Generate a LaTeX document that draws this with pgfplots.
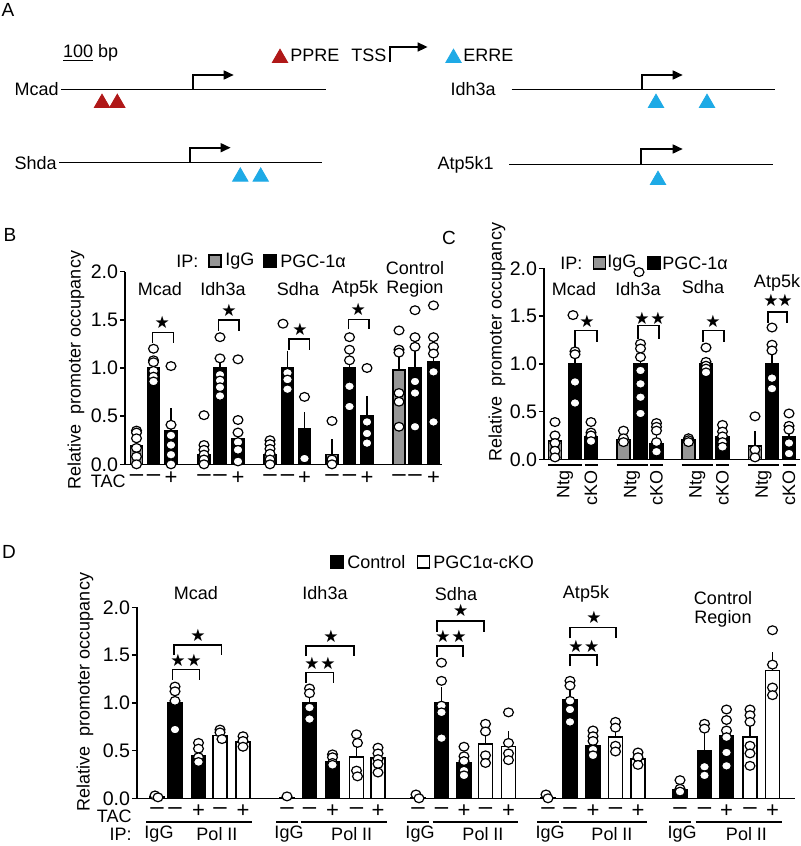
\documentclass[border=0pt]{standalone}
\usepackage{fontspec}
\setmainfont{Liberation Sans}
\newfontfamily\symfont{DejaVu Sans}
\usepackage{pgfplots}
\pgfplotsset{compat=1.18}
\usetikzlibrary{arrows.meta}

\definecolor{ppred}{RGB}{176,24,24}
\definecolor{errblue}{RGB}{30,170,230}
\definecolor{iggray}{RGB}{150,150,150}

\newcommand{\st}{{\symfont\fontsize{8.5}{8.5}\selectfont ★}}
\newcommand{\mi}{{\fontsize{12}{12}\selectfont –}}
\newcommand{\pl}{{\fontsize{11}{11}\selectfont +}}

\pgfplotsset{
  panel/.style={scale only axis, anchor=south west, axis lines=left,
    axis line style={-, line width=0.75pt},
    ymin=0, ymax=2, ytick={0,0.5,1,1.5,2}, xtick=\empty,
    tick align=outside, major tick length=2.5pt,
    every tick/.style={black, line width=0.75pt},
    yticklabel style={font=\fontsize{9.8}{9.8}\selectfont, inner sep=0.8pt,
      /pgf/number format/fixed, /pgf/number format/fixed zerofill,
      /pgf/number format/precision=1, /pgf/number format/assume math mode=true},
    clip=false},
  barb/.style={ybar, bar shift=0pt, fill=black, draw=black, line width=0.75pt, mark=none,
    error bars/y dir=plus, error bars/y explicit,
    error bars/error bar style={line width=0.75pt, black},
    error bars/error mark options={line width=0.75pt, black, mark size=2pt}},
  barg/.style={barb, fill=iggray},
  barw/.style={barb, fill=white},
  barn/.style={ybar, bar shift=0pt, fill=black, draw=black, line width=0.75pt, mark=none},
  pts/.style={only marks, mark=*, mark size=2.2pt,
    mark options={fill=white, draw=black, line width=0.6pt, xscale=1.12}},
}
\tikzset{lab/.style={font=\fontsize{9}{10}\selectfont, inner sep=0pt},
  plet/.style={font=\fontsize{9.5}{10}\selectfont, inner sep=0pt},
  stn/.style={inner sep=0pt},
  brk/.style={line width=0.75pt, black}}

\begin{document}
\begin{tikzpicture}[x=0.5pt,y=-0.5pt]
\path[use as bounding box, fill=white] (0,0) rectangle (800,846);

% ================= Panel A =================
\begin{axis}[at={(0pt,-95pt)}, anchor=south west, scale only axis, width=400pt, height=95pt,
  xmin=0, xmax=800, ymin=0, ymax=190, y dir=reverse, axis lines=none, clip=false]
\addplot[line width=0.8pt] coordinates {(61,89.3) (325.5,89.3)};
\addplot[line width=0.8pt] coordinates {(59,162.3) (322.4,162.3)};
\addplot[line width=0.8pt] coordinates {(511.7,89.3) (774.5,89.3)};
\addplot[line width=0.8pt] coordinates {(509,164.3) (773,164.3)};
\addplot[line width=0.8pt, -{Triangle[length=5pt, width=4.5pt]}] coordinates {(193,89.3) (193,75) (233.7,75)};
\addplot[line width=0.8pt, -{Triangle[length=5pt, width=4.5pt]}] coordinates {(189.8,162.3) (189.8,147.7) (230.6,147.7)};
\addplot[line width=0.8pt, -{Triangle[length=5pt, width=4.5pt]}] coordinates {(641.8,89.3) (641.8,75) (682.7,75)};
\addplot[line width=0.8pt, -{Triangle[length=5pt, width=4.5pt]}] coordinates {(640.8,164.3) (640.8,149) (682.7,149)};
\addplot[line width=0.8pt, -{Triangle[length=5pt, width=4.5pt]}] coordinates {(390,62) (390,47) (427.6,47)};
\addplot[only marks, mark=triangle*, mark size=4.4pt, color=ppred] coordinates {(102,103) (117.3,103) (280,58)};
\addplot[only marks, mark=triangle*, mark size=4.4pt, color=errblue] coordinates {(240.3,176.7) (260.7,176.7) (656,103) (707,103) (658,180) (453.5,58)};
\end{axis}
\node[plet] at (8,10) {A};
\node[lab, anchor=west] at (62.8,53) {\underline{100} bp};
\node[lab, anchor=west] at (290,55) {PPRE};
\node[lab, anchor=west] at (351,55) {TSS};
\node[lab, anchor=west] at (463,55) {ERRE};
\node[lab, anchor=east] at (59,89) {Mcad};
\node[lab, anchor=east] at (57,163) {Shda};
\node[lab, anchor=east] at (496,89) {Idh3a};
\node[lab, anchor=east] at (494,165) {Atp5k1};

% ================= Panel B =================
\begin{axis}[panel, at={(62.5pt,-232.15pt)}, width=158.5pt, height=96.3pt, xmin=125, xmax=442]
\addplot[barg, bar width=12] coordinates {(136.5,0.19) +- (0,0.10) (204,0.10) +- (0,0.06) (270,0.10) +- (0,0.04) (332,0.10) +- (0,0.12) (399,0.98) +- (0,0.14)};
\addplot[barb, bar width=12] coordinates {(153.5,1.0) +- (0,0.06) (171,0.35) +- (0,0.19) (220,1.0) +- (0,0.09) (238,0.27) +- (0,0.07) (287.5,1.0) +- (0,0.14) (304.5,0.37) +- (0,0.13) (349.5,1.0) +- (0,0.12) (367,0.50) +- (0,0.17) (415,1.0) +- (0,0.15) (433.5,1.06) +- (0,0.14)};
\addplot[pts] coordinates {
(136.5,0.35) (136.5,0.33) (136.5,0.27) (136.5,0.17) (136.5,0.08) (136.5,0.0)
(153.5,1.20) (153.5,1.08) (153.5,1.06) (153.5,0.97) (153.5,0.91) (153.5,0.86)
(171,1.02) (171,0.41) (171,0.30) (171,0.20) (171,0.10) (171,0.0)
(204,0.51) (204,0.20) (204,0.15) (204,0.10) (204,0.05) (204,0.0)
(220,1.32) (220,1.10) (220,0.93) (220,0.87) (220,0.80) (220,0.71)
(238,1.09) (238,0.46) (238,0.33) (238,0.23) (238,0.15) (238,0.03)
(270,0.25) (270,0.21) (270,0.16) (270,0.11) (270,0.05) (270,0.0)
(283,1.46) (287.5,0.95) (287.5,0.88) (287.5,0.78)
(304.5,0.70) (304.5,0.06)
(332,0.45) (332,0.05) (332,0.0)
(349.5,1.32) (349.5,1.19) (349.5,1.08) (349.5,0.81) (349.5,0.60)
(367,1.0) (367,0.44) (367,0.32) (367,0.22)
(399,1.39) (399,1.19) (399,1.16) (399,0.74) (399,0.65) (399,0.39)
(415,1.60) (415,1.32) (415,1.22) (415,0.86) (415,0.74) (415,0.39)
(433.5,1.65) (433.5,1.32) (433.5,1.22) (433.5,1.15) (433.5,0.96) (433.5,0.44)};
\draw[brk] (axis cs:152.3,1.263) |- (axis cs:173.3,1.367) -- (axis cs:173.3,1.263);
\draw[brk] (axis cs:218.3,1.387) |- (axis cs:239,1.498) -- (axis cs:239,1.387);
\draw[brk] (axis cs:289,1.19) |- (axis cs:309.3,1.30) -- (axis cs:309.3,1.19);
\draw[brk] (axis cs:348.3,1.40) |- (axis cs:369,1.505) -- (axis cs:369,1.40);
\end{axis}
\node[plet] at (10,235) {B};
\node[lab, rotate=90] at (76,370) {Relative\ \ promoter occupancy};
\node[lab, anchor=west] at (176,261) {IP:};
\node[draw=black, fill=iggray, line width=0.6pt, minimum size=6pt, inner sep=0pt] at (215,261) {};
\node[lab, anchor=west] at (225,261) {IgG};
\node[draw=black, fill=black, minimum size=6.5pt, inner sep=0pt] at (270,261) {};
\node[lab, anchor=west] at (280,261) {PGC-1α};
\node[lab] at (160,289) {Mcad};
\node[lab] at (223,289) {Idh3a};
\node[lab] at (298,289) {Sdha};
\node[lab] at (355,289) {Atp5k};
\node[lab] at (415,268) {Control};
\node[lab] at (415,289) {Region};
\foreach \p in {(162.3,322.7),(229,310),(300,329.3),(358.3,309.3)} {\node[stn] at \p {\st};}
\node[lab, anchor=east] at (126,481) {TAC};
\foreach \x in {136.5,153.5,204,220,270,287.5,332,349.5,399,415} {\node[lab] at (\x,478) {\mi};}
\foreach \x in {171,238,304.5,367,433.5} {\node[lab] at (\x,478) {\pl};}

% ================= Panel C =================
\begin{axis}[panel, at={(272pt,-229.65pt)}, width=128pt, height=95.5pt, xmin=544, xmax=800]
\addplot[barg, bar width=13] coordinates {(555,0.19) +- (0,0.05) (623.5,0.21) +- (0,0.04) (688.5,0.21) +- (0,0.02) (755,0.14) +- (0,0.11)};
\addplot[barb, bar width=13] coordinates {(575,1.0) +- (0,0.20) (591,0.24) +- (0,0.04) (640.5,1.0) +- (0,0.18) (656.5,0.16) +- (0,0.05) (706,1.0) +- (0,0.03) (722.5,0.24) +- (0,0.04) (772,1.0) +- (0,0.11) (789,0.24) +- (0,0.10)};
\addplot[pts] coordinates {
(555,0.39) (555,0.25) (555,0.17) (555,0.09) (555,0.02)
(573,1.51) (575,1.13) (575,1.10) (575,0.81) (575,0.59)
(591,0.39) (591,0.28) (591,0.25) (591,0.19)
(623.5,0.30) (623.5,0.22) (623.5,0.18)
(639,1.96) (640.5,1.21) (640.5,1.16) (640.5,1.07) (640.5,0.93) (640.5,0.79) (640.5,0.65) (640.5,0.48)
(656.5,0.38) (656.5,0.34) (656.5,0.30) (656.5,0.18) (656.5,0.08)
(688.5,0.22) (688.5,0.20) (688.5,0.18)
(706,1.17) (706,1.02) (706,0.98) (706,0.95) (706,0.91)
(722.5,0.36) (722.5,0.29) (722.5,0.24) (722.5,0.18) (722.5,0.13)
(755,0.45) (755,0.10) (755,0.02)
(772,1.38) (772,1.20) (772,1.14) (772,0.85) (772,0.74)
(789,0.48) (789,0.35) (789,0.31) (789,0.17) (789,0.06)};
\draw[brk] (axis cs:575,1.23) |- (axis cs:597,1.35) -- (axis cs:597,1.23);
\draw[brk] (axis cs:638,1.26) |- (axis cs:659,1.40) -- (axis cs:659,1.26);
\draw[brk] (axis cs:703,1.23) |- (axis cs:724,1.35) -- (axis cs:724,1.23);
\draw[brk] (axis cs:768,1.43) |- (axis cs:787,1.54) -- (axis cs:787,1.43);
\end{axis}
\node[plet] at (449,238) {C};
\node[lab, rotate=90] at (497,342) {Relative\ \ promoter occupancy};
\node[lab, anchor=west] at (560,263) {IP:};
\node[draw=black, fill=iggray, line width=0.6pt, minimum size=6pt, inner sep=0pt] at (599.5,263) {};
\node[lab, anchor=west] at (607,263) {IgG};
\node[draw=black, fill=black, minimum size=6.5pt, inner sep=0pt] at (654,263) {};
\node[lab, anchor=west] at (662,263) {PGC-1α};
\node[lab] at (574,289) {Mcad};
\node[lab] at (638,289) {Idh3a};
\node[lab] at (703,287) {Sdha};
\node[lab] at (777,283) {Atp5k};
\foreach \p in {(587,321.7),(642,318),(658,318),(713,321),(771,300),(785,300)} {\node[stn] at \p {\st};}
\foreach \a/\b in {555/575, 623.5/640.5, 688.5/706, 755/772} {
  \draw[line width=0.75pt] (\a-7,465) -- (\b+7,465);
  \node[lab, rotate=90, anchor=east] at ({(\a+\b)/2},470) {Ntg};}
\foreach \c in {591,656.5,722.5,789} {
  \draw[line width=0.75pt] (\c-6.5,465) -- (\c+6.5,465);
  \node[lab, rotate=90, anchor=east] at (\c,470) {cKO};}

% ================= Panel D =================
\begin{axis}[panel, at={(68.5pt,-399.15pt)}, width=329pt, height=95.5pt, xmin=137, xmax=795]
\addplot[barn, bar width=14] coordinates {(157,0.02) (287,0.01) (418,0.01) (548,0.01) (680,0.09)};
\addplot[barb, bar width=14] coordinates {(175,1.0) +- (0,0.07) (198.5,0.45) +- (0,0.06) (309.5,1.0) +- (0,0.07) (332.5,0.38) +- (0,0.04) (441.5,1.0) +- (0,0.12) (464,0.37) +- (0,0.05) (570,1.03) +- (0,0.06) (593,0.55) +- (0,0.05) (704.5,0.50) +- (0,0.14) (726.5,0.65) +- (0,0.07)};
\addplot[barw, bar width=14] coordinates {(220,0.66) +- (0,0.03) (243,0.59) +- (0,0.03) (356.5,0.43) +- (0,0.12) (378,0.42) +- (0,0.05) (485.5,0.57) +- (0,0.11) (508.5,0.54) +- (0,0.12) (615.5,0.64) +- (0,0.06) (638,0.41) +- (0,0.03) (750,0.64) +- (0,0.15) (772.5,1.34) +- (0,0.15)};
\addplot[pts] coordinates {
(155,0.03) (158,0.01)
(175,1.17) (175,1.12) (175,1.02) (175,0.72)
(198.5,0.58) (198.5,0.52) (198.5,0.43) (198.5,0.38)
(220,0.72) (220,0.69) (222,0.62)
(243,0.65) (243,0.60) (243,0.54)
(287,0.02)
(309.5,1.15) (309.5,1.10) (309.5,0.95) (309.5,0.83)
(332.5,0.46) (332.5,0.43) (332.5,0.37) (332.5,0.35)
(356.5,0.67) (357.5,0.58) (356.5,0.29) (357.5,0.23)
(378,0.53) (378,0.47) (378,0.41) (378,0.36) (378,0.27)
(416,0.04) (419,0.0)
(441.5,1.42) (441.5,1.23) (441.5,0.97) (441.5,0.90) (441.5,0.63)
(464,0.54) (464,0.44) (464,0.39) (464,0.29) (464,0.24)
(485.5,0.78) (485.5,0.70) (485.5,0.45) (485.5,0.37)
(508.5,0.90) (508.5,0.58) (508.5,0.47) (508.5,0.40)
(546,0.04) (548,0.0)
(570,1.23) (570,1.18) (570,1.02) (570,0.93) (570,0.80)
(593,0.71) (593,0.65) (593,0.60) (593,0.51) (593,0.45)
(615.5,0.80) (615.5,0.74) (615.5,0.55) (615.5,0.49)
(638,0.48) (638,0.43) (638,0.35)
(680,0.19) (680,0.10) (680,0.07)
(704.5,0.78) (704.5,0.73) (704.5,0.33) (704.5,0.24)
(726.5,0.93) (726.5,0.82) (726.5,0.71) (726.5,0.64) (726.5,0.48) (726.5,0.34)
(750,0.93) (750,0.87) (750,0.80) (750,0.55) (750,0.47) (750,0.34)
(772.5,1.76) (772.5,1.40) (772.5,1.16) (772.5,1.08)};
\draw[brk] (axis cs:172.7,1.24) |- (axis cs:199.3,1.35) -- (axis cs:199.3,1.24);
\draw[brk] (axis cs:174,1.50) |- (axis cs:221.7,1.605) -- (axis cs:221.7,1.50);
\draw[brk] (axis cs:306,1.21) |- (axis cs:333.3,1.32) -- (axis cs:333.3,1.21);
\draw[brk] (axis cs:306,1.49) |- (axis cs:354,1.595) -- (axis cs:354,1.49);
\draw[brk] (axis cs:437,1.48) |- (axis cs:463,1.595) -- (axis cs:463,1.48);
\draw[brk] (axis cs:437,1.745) |- (axis cs:484,1.857) -- (axis cs:484,1.745);
\draw[brk] (axis cs:570,1.385) |- (axis cs:597,1.50) -- (axis cs:597,1.385);
\draw[brk] (axis cs:570,1.675) |- (axis cs:616,1.79) -- (axis cs:616,1.675);
\end{axis}
\node[plet] at (9,552) {D};
\node[lab, rotate=90] at (85,692) {Relative\ \ promoter occupancy};
\node[draw=black, fill=black, minimum size=6.5pt, inner sep=0pt] at (337,562) {};
\node[lab, anchor=west] at (347,562) {Control};
\node[draw=black, fill=white, line width=0.6pt, minimum size=6pt, inner sep=0pt] at (423.5,562) {};
\node[lab, anchor=west] at (433,562) {PGC1α-cKO};
\node[lab] at (196,593) {Mcad};
\node[lab] at (325,593) {Idh3a};
\node[lab] at (456,594) {Sdha};
\node[lab] at (586,594) {Atp5k};
\node[lab] at (723,598) {Control};
\node[lab] at (723,619) {Region};
\foreach \p in {(178,660),(194,660),(198,635),(312,663.3),(328,663.3),(331,636),(443,636.7),(459,636.7),(460.7,610),(576,646.7),(591.7,646.7),(594,617.3)} {\node[stn] at \p {\st};}
\node[lab, anchor=east] at (132,816) {TAC};
\node[lab, anchor=east] at (132,834) {IP:};
\foreach \g/\a/\b/\c/\d in {157/175/198.5/220/243, 287/309.5/332.5/356.5/378, 418/441.5/464/485.5/508.5, 548/570/593/615.5/638, 680/704.5/726.5/750/772.5} {
  \node[lab] at (\g,811) {\mi};
  \node[lab] at (\a,811) {\mi};
  \node[lab] at (\b,811) {\pl};
  \node[lab] at (\c,811) {\mi};
  \node[lab] at (\d,811) {\pl};
  \draw[line width=0.75pt] (\g-11,822) -- (\g+11,822);
  \draw[line width=0.75pt] (\a-9,822) -- (\d+9,822);
  \node[lab] at (\g+2,834) {IgG};
  \node[lab] at ({(\a+\d)/2+8},834) {Pol II};
}
\end{tikzpicture}
\end{document}
